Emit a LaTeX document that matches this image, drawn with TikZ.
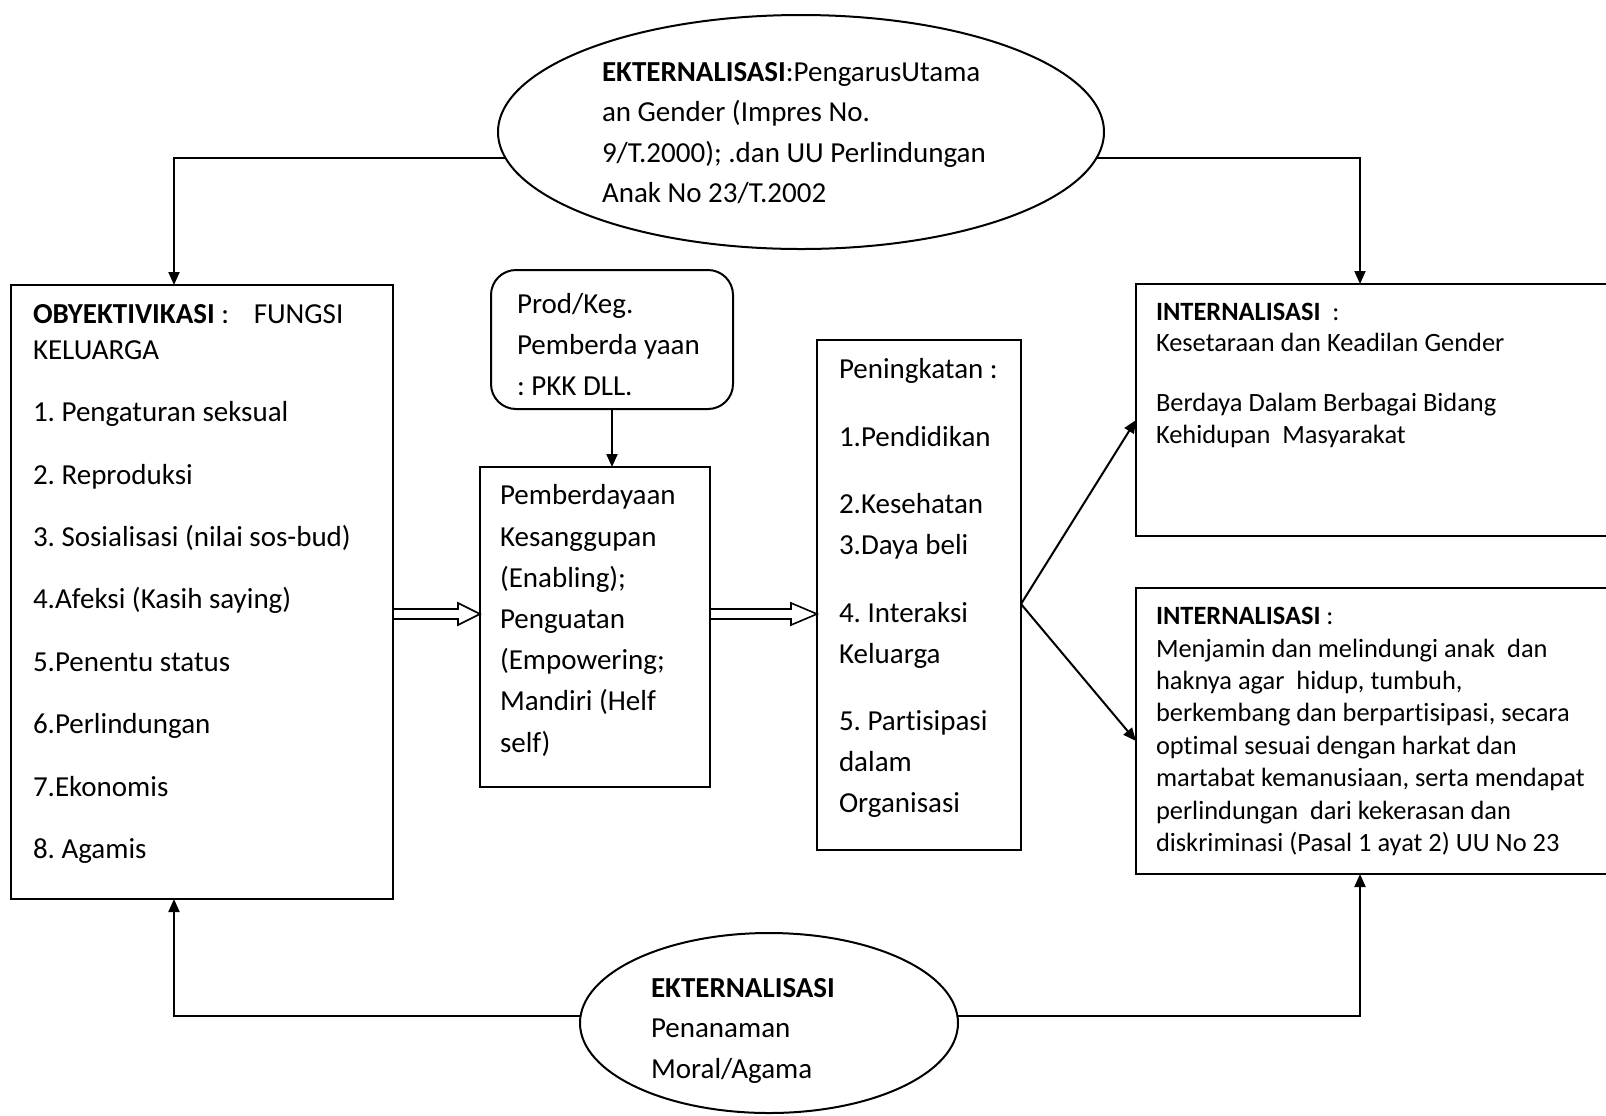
\documentclass[tikz,border=0pt]{standalone}
\usepackage{fontspec}
\setmainfont{Carlito}[Ligatures={NoCommon}]
\usetikzlibrary{arrows.meta,shapes.geometric,calc}
\frenchspacing
\begin{document}
\frenchspacing
\begin{tikzpicture}[x=0.5pt,y=-0.5pt,line width=1pt,
  box/.style={draw,rectangle,inner sep=0pt,outer sep=0pt},
  ell/.style={draw,ellipse,inner sep=0pt,outer sep=0pt},
  txt/.style={anchor=north west,inner sep=0pt,outer sep=0pt,align=left},
  arr/.style={-{Triangle[length=6.5pt,width=5.5pt]}},
  hollow/.style={line width=0.8pt,line join=miter}]
\useasboundingbox (0,0) rectangle (1606,1115);
\clip (0,0) rectangle (1606,1115);
% boxes
\node[box,minimum width=191pt,minimum height=307pt] (L) at (202,592) {};
\node[box,rounded corners=12.5pt,minimum width=121pt,minimum height=69.5pt] (R) at (612,339.5) {};
\node[box,minimum width=115pt,minimum height=160pt] (P) at (595,627) {};
\node[box,minimum width=102pt,minimum height=255pt] (K) at (919,595) {};
\node[box,minimum width=252pt,minimum height=126pt] (I1) at (1388,410) {};
\node[box,minimum width=252pt,minimum height=143pt] (I2) at (1388,731) {};
\node[ell,minimum width=303pt,minimum height=117pt] (E1) at (801,132) {};
\node[ell,minimum width=189pt,minimum height=90pt] (E2) at (769,1023) {};
% texts
\node[txt,font=\fontsize{14.5pt}{20.2pt}\selectfont\frenchspacing] (tE1) at (602,53)
 {\strut\textbf{EKTERNALISASI}:PengarusUtama\\an Gender (Impres No.\\9/T.2000); .dan UU Perlindungan\\Anak No 23/T.2002};
\node[txt,font=\fontsize{14.5pt}{18pt}\selectfont\frenchspacing] (tL) at (33,298)
 {\strut\textbf{OBYEKTIVIKASI} :\hspace{0.85em}FUNGSI\\KELUARGA\\[13.2pt]1. Pengaturan seksual\\[13.2pt]2. Reproduksi\\[13.2pt]3. Sosialisasi (nilai sos-bud)\\[13.2pt]4.Afeksi (Kasih saying)\\[13.2pt]5.Penentu status\\[13.2pt]6.Perlindungan\\[13.2pt]7.Ekonomis\\[13.2pt]8. Agamis};
\node[txt,font=\fontsize{14.5pt}{20.5pt}\selectfont\frenchspacing] (tR) at (517,285)
 {\strut Prod/Keg.\\Pemberda yaan\\: PKK DLL.};
\node[txt,font=\fontsize{14.5pt}{20.6pt}\selectfont\frenchspacing] (tP) at (500,476)
 {\strut Pemberdayaan\\Kesanggupan\\(Enabling);\\Penguatan\\(Empowering;\\Mandiri (Helf\\self)};
\node[txt,font=\fontsize{14.5pt}{20.5pt}\selectfont\frenchspacing] (tK) at (839,350)
 {\strut Peningkatan :\\[13.25pt]1.Pendidikan\\[13.25pt]2.Kesehatan\\3.Daya beli\\[13.25pt]4. Interaksi\\Keluarga\\[13.25pt]5. Partisipasi\\dalam\\Organisasi};
\node[txt,font=\fontsize{13.2pt}{15.75pt}\selectfont\frenchspacing] (tI1) at (1156,298)
 {\strut\textbf{INTERNALISASI}~~:\\Kesetaraan dan Keadilan Gender\\[14.25pt]Berdaya Dalam Berbagai Bidang\\Kehidupan~~Masyarakat};
\node[txt,font=\fontsize{13.2pt}{16.2pt}\selectfont\frenchspacing] (tI2) at (1156,602)
 {\strut\textbf{INTERNALISASI} :\\Menjamin dan melindungi anak~~dan\\haknya agar~~hidup, tumbuh,\\berkembang dan berpartisipasi, secara\\optimal sesuai dengan harkat dan\\martabat kemanusiaan, serta mendapat\\perlindungan~~dari kekerasan dan\\diskriminasi (Pasal 1 ayat 2) UU No 23};
\node[txt,font=\fontsize{14.5pt}{20.25pt}\selectfont\frenchspacing] (tE2) at (651,969)
 {\strut\textbf{EKTERNALISASI}\\Penanaman\\Moral/Agama};
% connectors
\coordinate (tl) at (174,0);
\coordinate (tr) at (1360,0);
\draw[arr] (E1.185) -| (tl |- L.north);
\draw[arr] (E1.-5) -| (tr |- I1.north);
\draw[arr] (E2.178) -| (tl |- L.south);
\draw[arr] (E2.2) -| (tr |- I2.south);
\draw[arr] (R.south) -- (R.south |- P.north);
\coordinate (kj) at ($(K.east)+(0,9)$);
\draw[arr] (kj) -- ($(I1.west)+(0,10)$);
\draw[arr] (kj) -- ($(I2.west)+(0,10)$);
% hollow double arrows
\coordinate (m) at (0,614);
\draw[hollow] ($(L.east|-m)+(0,-5)$) -- ($(P.west|-m)+(-22,-5)$) -- ($(P.west|-m)+(-22,-11)$)
  -- (P.west|-m) -- ($(P.west|-m)+(-22,11)$) -- ($(P.west|-m)+(-22,5)$) -- ($(L.east|-m)+(0,5)$);
\draw[hollow] ($(P.east|-m)+(0,-5)$) -- ($(K.west|-m)+(-26,-5)$) -- ($(K.west|-m)+(-26,-11)$)
  -- (K.west|-m) -- ($(K.west|-m)+(-26,11)$) -- ($(K.west|-m)+(-26,5)$) -- ($(P.east|-m)+(0,5)$);
\end{tikzpicture}
\end{document}
